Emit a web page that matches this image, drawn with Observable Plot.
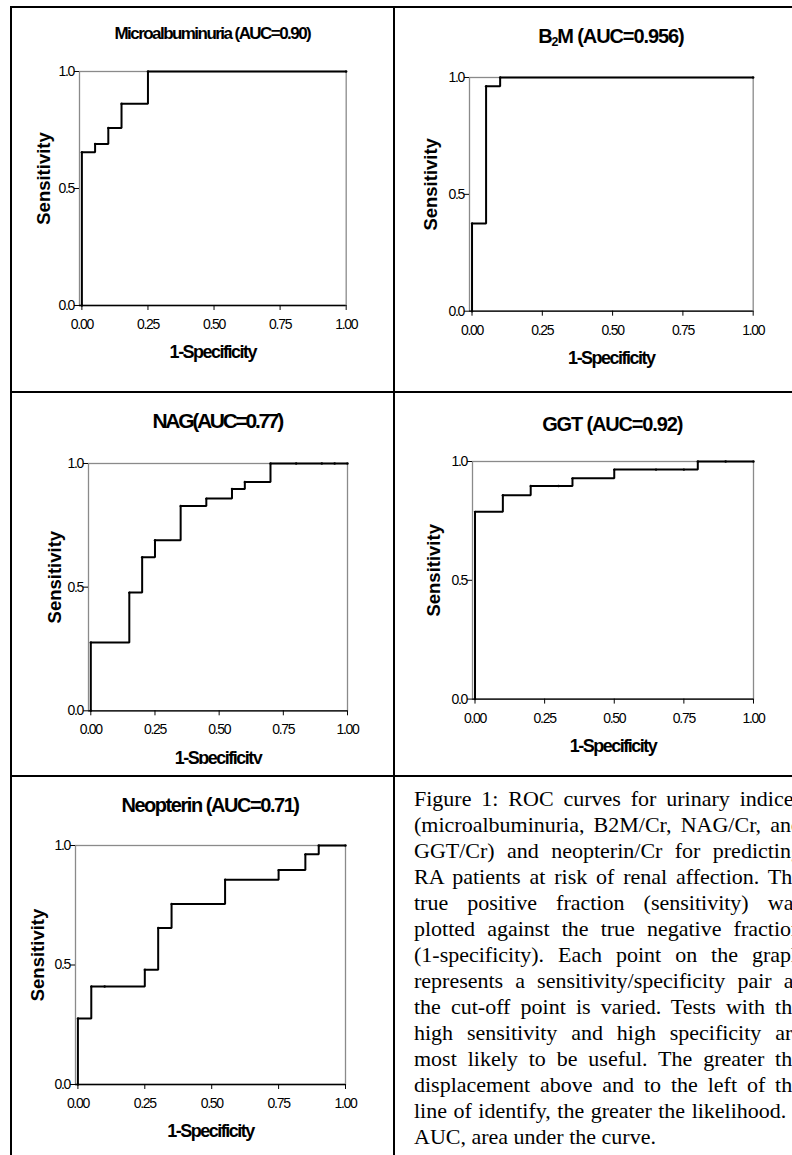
<!DOCTYPE html>
<html>
<head>
<meta charset="utf-8">
<script src="https://cdn.jsdelivr.net/npm/d3@7"></script>
<script src="https://cdn.jsdelivr.net/npm/@observablehq/plot@0.6"></script>
<style>
  html, body { margin: 0; padding: 0; background: #fff; }
  #page { position: relative; width: 792px; height: 1155px; overflow: hidden; background: #fff; }
  .rule { position: absolute; background: #000; }
  .cell { position: absolute; overflow: hidden; }
  .title { position: absolute; font-family: "Liberation Sans", Arial, sans-serif; font-weight: bold;
           text-align: center; white-space: nowrap; line-height: 1; color: #000; }
  .title sub { font-size: 0.62em; vertical-align: -0.28em; line-height: 0; }
  .caption { position: absolute; font-family: "Liberation Serif", "Times New Roman", serif;
             font-size: 22px; line-height: 26px; color: #000; }
  .caption .j { text-align: justify; text-align-last: justify; }
  .caption .l { text-align: left; }
</style>
</head>
<body>
<div id="page"></div>
<script>
// ---------------- data ----------------
const xTickValues = [0, 0.25, 0.5, 0.75, 1];
const yTickValues = [0, 0.5, 1];
const xLabel = "1-Specificity";
const yLabel = "Sensitivity";

const titles = [
  "Microalbuminuria (AUC=0.90)",
  "B2M (AUC=0.956)",
  "NAG(AUC=0.77)",
  "GGT (AUC=0.92)",
  "Neopterin (AUC=0.71)"
];

// ROC points: 1-specificity (fpr) and sensitivity (tpr)
const microFpr = [0, 0, 0.05, 0.10, 0.15, 0.25, 1.0];
const microTpr = [0, 0.655, 0.690, 0.759, 0.862, 1.0, 1.0];

const b2mFpr = [0, 0, 0.05, 0.10, 1.0];
const b2mTpr = [0, 0.375, 0.963, 1.0, 1.0];

const nagFpr = [0, 0, 0.15, 0.20, 0.25, 0.35, 0.45, 0.55, 0.60, 0.70, 0.80, 0.90, 0.95, 1.0];
const nagTpr = [0, 0.276, 0.478, 0.621, 0.690, 0.828, 0.858, 0.897, 0.925, 1.0, 1.0, 1.0, 1.0, 1.0];

const ggtFpr = [0, 0, 0.10, 0.20, 0.30, 0.35, 0.50, 0.65, 0.75, 0.80, 0.90, 1.0];
const ggtTpr = [0, 0.788, 0.858, 0.897, 0.897, 0.929, 0.966, 0.966, 0.966, 1.0, 1.0, 1.0];

const neoFpr = [0, 0, 0.05, 0.10, 0.25, 0.30, 0.35, 0.55, 0.75, 0.85, 0.90, 1.0];
const neoTpr = [0, 0.276, 0.410, 0.410, 0.480, 0.655, 0.755, 0.857, 0.897, 0.963, 1.0, 1.0];

const captionLines = [
  "Figure 1: ROC curves for urinary indices",
  "(microalbuminuria, B2M/Cr, NAG/Cr, and",
  "GGT/Cr) and neopterin/Cr for predicting",
  "RA patients at risk of renal affection. The",
  "true positive fraction (sensitivity) was",
  "plotted against the true negative fraction",
  "(1-specificity). Each point on the graph",
  "represents a sensitivity/specificity pair as",
  "the cut-off point is varied. Tests with the",
  "high sensitivity and high specificity are",
  "most likely to be useful. The greater the",
  "displacement above and to the left of the",
  "line of identify, the greater the likelihood.",
  "AUC, area under the curve."
];

// ---------------- layout ----------------
const series = [[microFpr, microTpr], [b2mFpr, b2mTpr], [nagFpr, nagTpr], [ggtFpr, ggtTpr], [neoFpr, neoTpr]];
const layout = [
  {cell: [12, 8, 381, 383],   box: [79, 71, 345.7, 305],       titleY: 33.7,  titleSize: 17, titleSpacing: -1.55, yLabelDx: -35},
  {cell: [395, 8, 430, 383],  box: [469, 77.3, 752.7, 311],    titleY: 35.7,  titleSize: 20, titleSpacing: -1.1,  yLabelDx: -38.4},
  {cell: [12, 393, 381, 371], box: [87.7, 462.7, 346.7, 710],  titleY: 420.7, titleSize: 21, titleSpacing: -2.3,  yLabelDx: -33.7},
  {cell: [395, 393, 430, 382],box: [471.7, 460.7, 752.7, 698.3], titleY: 423.3, titleSize: 20, titleSpacing: -1.15, yLabelDx: -38.7},
  {cell: [12, 777, 381, 400], box: [75, 845, 345, 1084],       titleY: 805,   titleSize: 20, titleSpacing: -1.45, yLabelDx: -37.7}
];
const rules = [
  [10, 6, 2, 1149],    // left border
  [10, 6, 782, 2],     // top border
  [393, 6, 2, 1149],   // middle divider
  [10, 391, 782, 2],   // row divider 1
  [10, 775, 782, 2]    // row divider 2
];
const xMin = -0.009;

const page = document.getElementById("page");
for (const [l, t, w, h] of rules) {
  const d = document.createElement("div");
  d.className = "rule";
  Object.assign(d.style, {left: l + "px", top: t + "px", width: w + "px", height: h + "px"});
  page.appendChild(d);
}

const font = '"Liberation Sans", Arial, sans-serif';

layout.forEach((L, i) => {
  const [cx, cy, cw, ch] = L.cell;
  const [fl, ft, fr, fb] = L.box;
  const ML = 70, MR = 14, MT = 14, MB = 64;
  const cell = document.createElement("div");
  cell.className = "cell";
  Object.assign(cell.style, {left: cx + "px", top: cy + "px", width: cw + "px", height: ch + "px"});
  page.appendChild(cell);

  const [fx, fy] = series[i];
  const data = fx.map((x, j) => ({fpr: x, tpr: fy[j]}));

  const plot = Plot.plot({
    width: fr - fl + ML + MR,
    height: fb - ft + MT + MB,
    marginLeft: ML, marginRight: MR, marginTop: MT, marginBottom: MB,
    style: {fontFamily: font, fontSize: "14px", background: "transparent", color: "#000", overflow: "visible"},
    x: {domain: [xMin, 1], label: null},
    y: {domain: [0, 1], label: null},
    marks: [
      Plot.frame({stroke: "#8a8a8a", strokeWidth: 1.3}),
      Plot.ruleY([0], {stroke: "#000", strokeWidth: 1.3}),
      Plot.axisX({ticks: xTickValues, tickFormat: d3.format(".2f"), tickSize: 5, tickPadding: 8.5, label: null}),
      Plot.axisY({ticks: yTickValues, tickFormat: d3.format(".1f"), tickSize: 5, tickPadding: 0.5, label: null}),
      Plot.line(data, {x: "fpr", y: "tpr", curve: "step-after", stroke: "#000", strokeWidth: 2,
                       strokeLinejoin: "miter", strokeLinecap: "butt"}),
      Plot.dot(data, {x: "fpr", y: "tpr", r: 1.2, fill: "#000", stroke: "none"}),
      Plot.text([xLabel], {frameAnchor: "bottom", lineAnchor: "middle", textAnchor: "middle", dy: 47,
                           fontSize: 18, fontWeight: "bold", fill: "#000"}),
      Plot.text([yLabel], {frameAnchor: "left", lineAnchor: "middle", textAnchor: "middle", rotate: -90,
                           dx: L.yLabelDx, dy: -10, fontSize: 18.5, fontWeight: "bold", fill: "#000"})
    ]
  });
  plot.style.position = "absolute";
  plot.style.maxWidth = "none";
  plot.style.left = (fl - ML - cx) + "px";
  plot.style.top = (ft - MT - cy) + "px";
  d3.select(plot).selectAll('g[aria-label="x-axis tick label"] text, g[aria-label="y-axis tick label"] text')
    .attr("letter-spacing", "-1.3px");
  d3.select(plot).selectAll("text").filter(function () { return this.textContent === xLabel; })
    .attr("letter-spacing", "-1.5px");
  cell.appendChild(plot);

  const t = document.createElement("div");
  t.className = "title";
  const txt = titles[i];
  if (txt.startsWith("B2M")) t.innerHTML = "B<sub>2</sub>" + txt.slice(2);
  else t.textContent = txt;
  const centerX = (fl + fr) / 2;
  Object.assign(t.style, {
    left: (centerX - 150) + "px", width: "300px",
    top: (L.titleY - 0.4885 * L.titleSize) + "px",
    fontSize: L.titleSize + "px", letterSpacing: L.titleSpacing + "px"
  });
  page.appendChild(t);
});

const cap = document.createElement("div");
cap.className = "caption";
Object.assign(cap.style, {left: "414px", top: "786px", width: "388px"});
captionLines.forEach((line, k) => {
  const d = document.createElement("div");
  d.className = k < captionLines.length - 2 ? "j" : "l";
  if (k === captionLines.length - 2) d.style.wordSpacing = "1px";
  d.textContent = line;
  cap.appendChild(d);
});
page.appendChild(cap);
</script>
</body>
</html>
